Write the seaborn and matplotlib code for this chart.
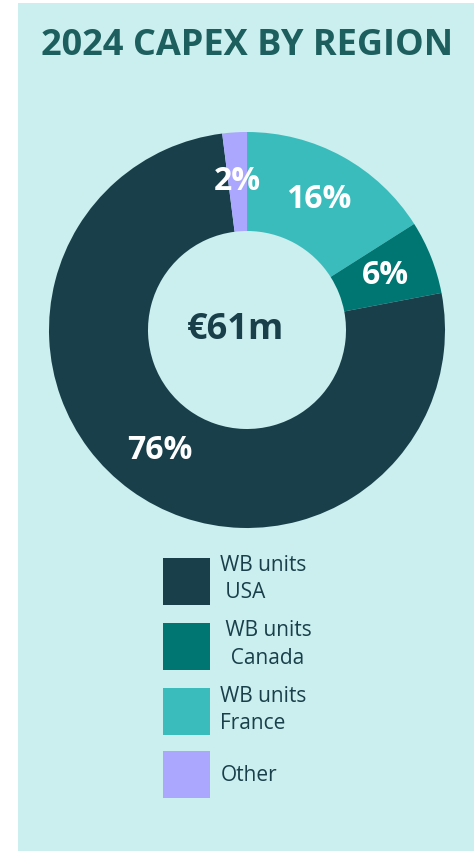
import matplotlib
matplotlib.use("Agg")
import matplotlib.pyplot as plt
from matplotlib.patches import Rectangle
import seaborn as sns

# Data
regions = ["WB units France", "WB units Canada", "WB units USA", "Other"]
shares = [16, 6, 76, 2]
legend_order = [2, 1, 0, 3]
legend_labels = ["WB units\n USA", " WB units\n  Canada", "WB units\nFrance", "Other"]
total_label = "€61m"
title = "2024 CAPEX BY REGION"

colors = ["#3bbcbc", "#007672", "#193f4a", "#aba7fe"]
bg = "#cbefef"
dark = "#193f4a"

sns.set_theme(style="white")
plt.rcParams['font.family'] = ['Open Sans', 'DejaVu Sans']

W, H = 474, 851
fig = plt.figure(figsize=(W / 100, H / 100), dpi=100)
fig.patch.set_facecolor("white")

# cyan panel
fig.patches.append(Rectangle((18 / W, 0), 1 - 18 / W, 1 - 3 / H,
                             transform=fig.transFigure, facecolor=bg,
                             edgecolor="none", zorder=-10))

fig.text(247 / W, 1 - 46 / H, title, ha="center", va="center",
         fontsize=26, fontweight="bold", color="#1d5e5e")

# donut
cx, cy, r = 247, 330, 198
ax = fig.add_axes([(cx - r) / W, 1 - (cy + r) / H, 2 * r / W, 2 * r / H])
ax.patch.set_visible(False)
wedges, texts, autotexts = ax.pie(
    shares, colors=colors, startangle=90, counterclock=False,
    radius=1, autopct="%.0f%%", pctdistance=0.75,
    wedgeprops=dict(width=0.5, linewidth=0),
    textprops=dict(color="white", fontsize=23, fontweight="bold"))
ax.set_xlim(-1, 1)
ax.set_ylim(-1, 1)
ax.set_aspect("equal")
ax.axis("off")
ax.text(-0.06, 0.0, total_label, ha="center", va="center",
        fontsize=26, fontweight="bold", color=dark)

# legend
handles = [wedges[i] for i in legend_order]
leg = fig.legend(handles, legend_labels, loc="upper left",
                 bbox_to_anchor=(163 / W, 1 - 555 / H),
                 frameon=False, fontsize=15, handlelength=2.25,
                 handleheight=3.1, handletextpad=0.5, labelspacing=0.75,
                 borderpad=0, borderaxespad=0)
for t in leg.get_texts():
    t.set_color(dark)
    t.set_linespacing(1.4)

fig.savefig("out.png", dpi=100, facecolor=fig.get_facecolor())
